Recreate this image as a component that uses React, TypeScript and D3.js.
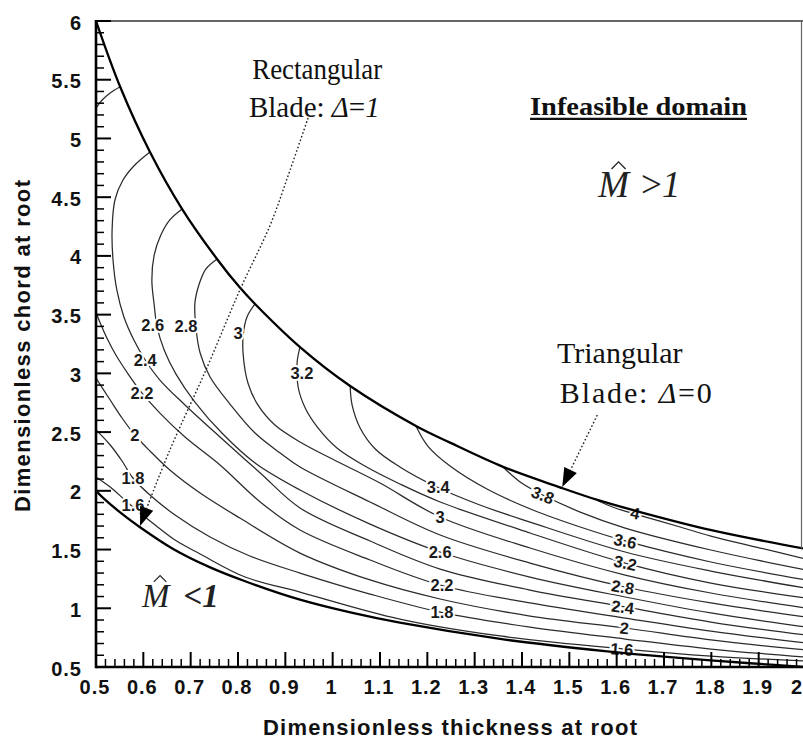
import React from 'react';
import * as d3 from 'd3';

const WIDTH = 803;
const HEIGHT = 739;

// ---------- axis ticks ----------
const xMajorTicks = [0.5, 0.6, 0.7, 0.8, 0.9, 1.0, 1.1, 1.2, 1.3, 1.4, 1.5, 1.6, 1.7, 1.8, 1.9, 2.0];
const xTickLabels = ['0.5', '0.6', '0.7', '0.8', '0.9', '1', '1.1', '1.2', '1.3', '1.4', '1.5', '1.6', '1.7', '1.8', '1.9', '2'];
const yMajorTicks = [0.5, 1, 1.5, 2, 2.5, 3, 3.5, 4, 4.5, 5, 5.5, 6];
const yTickLabels = ['0.5', '1', '1.5', '2', '2.5', '3', '3.5', '4', '4.5', '5', '5.5', '6'];

// ---------- boundaries (thickness t, chord c) ----------
const upperBoundary: [number, number][] = [
  [0.5, 6.0], [0.551, 5.44], [0.614, 4.885], [0.682, 4.399], [0.756, 3.972], [0.804, 3.73],
  [0.836, 3.59], [0.931, 3.223], [1.037, 2.892], [1.176, 2.552], [1.248, 2.41], [1.36, 2.204],
  [1.48, 2.03], [1.561, 1.92], [1.635, 1.835], [1.8, 1.665], [2.0, 1.505],
];
const lowerBoundary: [number, number][] = [
  [0.5, 2.0], [0.515, 1.94], [0.553, 1.81], [0.593, 1.69], [0.663, 1.505], [0.74, 1.35],
  [0.815, 1.23], [0.931, 1.073], [1.042, 0.96], [1.142, 0.877], [1.354, 0.739], [1.58, 0.633],
  [1.706, 0.586], [1.882, 0.532], [2.0, 0.5],
];

// ---------- contour lines ----------
const contour16: [number, number][] = [
  [0.5, 2.118], [0.53, 2.032], [0.561, 1.922], [0.593, 1.811], [0.625, 1.709], [0.667, 1.581],
  [0.72, 1.462], [0.815, 1.266], [0.931, 1.138], [1.142, 0.908], [1.354, 0.764], [1.618, 0.653],
  [1.799, 0.593], [2.0, 0.551],
];
const contour18: [number, number][] = [
  [0.5, 2.518], [0.53, 2.39], [0.555, 2.254], [0.578, 2.109], [0.614, 1.964], [0.667, 1.794],
  [0.741, 1.607], [0.825, 1.445], [0.931, 1.3], [1.079, 1.121], [1.227, 0.968], [1.417, 0.84],
  [1.618, 0.738], [1.799, 0.653], [2.0, 0.585],
];
const contour20: [number, number][] = [
  [0.5, 2.96], [0.53, 2.773], [0.555, 2.62], [0.582, 2.475], [0.614, 2.339], [0.656, 2.177],
  [0.72, 1.981], [0.804, 1.768], [0.931, 1.47], [1.079, 1.241], [1.227, 1.079], [1.417, 0.934],
  [1.618, 0.832], [1.799, 0.73], [2.0, 0.645],
];
const contour22top: [number, number][] = [
  [0.551, 5.44], [0.53, 5.387], [0.513, 5.327], [0.5, 5.259],
];
const contour22: [number, number][] = [
  [0.5, 3.522], [0.508, 3.437], [0.523, 3.301], [0.542, 3.156], [0.568, 2.994], [0.597, 2.833],
  [0.635, 2.662], [0.688, 2.458], [0.762, 2.22], [0.847, 1.905], [0.931, 1.666], [1.079, 1.411],
  [1.227, 1.198], [1.417, 1.045], [1.618, 0.917], [1.799, 0.806], [2.0, 0.704],
];
const contour24: [number, number][] = [
  [0.614, 4.885], [0.582, 4.774], [0.557, 4.646], [0.54, 4.476], [0.534, 4.221], [0.536, 3.965],
  [0.544, 3.71], [0.559, 3.48], [0.58, 3.284], [0.604, 3.114], [0.635, 2.943], [0.688, 2.731],
  [0.762, 2.458], [0.847, 2.152], [0.931, 1.854], [1.079, 1.573], [1.227, 1.334], [1.417, 1.155],
  [1.618, 1.011], [1.799, 0.883], [2.0, 0.772],
];
const contour26: [number, number][] = [
  [0.682, 4.399], [0.656, 4.306], [0.637, 4.178], [0.623, 4.008], [0.618, 3.795], [0.623, 3.582],
  [0.629, 3.395], [0.644, 3.199], [0.669, 2.994], [0.709, 2.756], [0.766, 2.492], [0.836, 2.237],
  [0.931, 2.007], [1.079, 1.717], [1.227, 1.479], [1.417, 1.266], [1.618, 1.096], [1.799, 0.96],
  [2.0, 0.84],
];
const contour28: [number, number][] = [
  [0.756, 3.974], [0.732, 3.888], [0.718, 3.761], [0.709, 3.599], [0.711, 3.395], [0.72, 3.173],
  [0.741, 2.969], [0.783, 2.739], [0.836, 2.492], [0.889, 2.322], [0.931, 2.203], [1.079, 1.905],
  [1.227, 1.624], [1.417, 1.385], [1.618, 1.181], [1.799, 1.045], [2.0, 0.926],
];
const contour30: [number, number][] = [
  [0.836, 3.591], [0.819, 3.48], [0.811, 3.327], [0.811, 3.156], [0.821, 2.918], [0.842, 2.731],
  [0.878, 2.56], [0.931, 2.416], [1.016, 2.237], [1.1, 2.066], [1.227, 1.777], [1.417, 1.513],
  [1.618, 1.283], [1.799, 1.13], [2.0, 1.002],
];
const contour32: [number, number][] = [
  [0.931, 3.224], [0.925, 3.097], [0.927, 2.884], [0.942, 2.705], [0.969, 2.535], [1.009, 2.364],
  [1.068, 2.211], [1.142, 2.058], [1.227, 1.905], [1.417, 1.641], [1.618, 1.385], [1.799, 1.215],
  [2.0, 1.087],
];
const contour34: [number, number][] = [
  [1.037, 2.892], [1.041, 2.731], [1.058, 2.535], [1.09, 2.356], [1.142, 2.203], [1.22, 2.032],
  [1.311, 1.879], [1.417, 1.734], [1.618, 1.479], [1.799, 1.317], [2.0, 1.172],
];
const contour36: [number, number][] = [
  [1.176, 2.552], [1.201, 2.381], [1.248, 2.211], [1.326, 2.015], [1.423, 1.837], [1.523, 1.692],
  [1.618, 1.573], [1.799, 1.394], [2.0, 1.241],
];
const contour38: [number, number][] = [
  [1.36, 2.203], [1.396, 2.075], [1.444, 1.964], [1.523, 1.819], [1.618, 1.683], [1.799, 1.496],
  [2.0, 1.326],
];
const contour40: [number, number][] = [
  [1.561, 1.913], [1.597, 1.854], [1.639, 1.802], [1.734, 1.692], [1.799, 1.615], [1.903, 1.513],
  [2.0, 1.419],
];

// ---------- contour labels: text, t, c ----------
const contourLabels: [string, number, number][] = [
  ['1.6', 0.578, 1.879], ['1.8', 0.578, 2.109], ['2', 0.582, 2.475], ['2.2', 0.597, 2.833],
  ['2.4', 0.604, 3.114], ['2.6', 0.62, 3.41], ['2.8', 0.69, 3.4], ['3', 0.8, 3.344],
  ['3.2', 0.935, 3.003],
  ['3.4', 1.223, 2.032], ['3', 1.227, 1.777], ['2.6', 1.227, 1.479], ['2.2', 1.231, 1.198],
  ['1.8', 1.231, 0.968], ['3.8', 1.444, 1.964],
  ['4', 1.639, 1.811], ['3.6', 1.618, 1.573], ['3.2', 1.618, 1.386], ['2.8', 1.613, 1.181],
  ['2.4', 1.613, 1.011], ['2', 1.616, 0.832], ['1.6', 1.611, 0.653],
];

// ---------- annotation arrows ----------
const rectangularArrow: [number, number][] = [
  [0.948, 5.174], [0.91, 4.731], [0.868, 4.263], [0.804, 3.71], [0.735, 3.054], [0.656, 2.347],
  [0.608, 1.862], [0.593, 1.7],
];
const triangularArrow: [number, number][] = [
  [1.559, 2.645], [1.485, 2.032],
];

// ---------- annotation anchors (t, c) ----------
const rectTitlePos: [number, number] = [0.83, 5.506];
const rectSubPos: [number, number] = [0.823, 5.183];
const triTitlePos: [number, number] = [1.474, 3.088];
const triSubPos: [number, number] = [1.48, 2.748];
const infeasiblePos: [number, number] = [1.417, 5.2];
const mGreaterPos: [number, number] = [1.561, 4.501];
const mLessPos: [number, number] = [0.597, 1.011];

const SANS = '"Liberation Sans", Arial, Helvetica, sans-serif';
const SERIF = '"Liberation Serif", "Times New Roman", Times, serif';

export default function App() {
  const x = d3.scaleLinear().domain([0.5, 2.0]).range([96, 806]);
  const y = d3.scaleLinear().domain([0.5, 6]).range([667, 21]);
  const [x0, x1] = x.range();
  const [y0, y1] = y.range(); // y0 bottom, y1 top

  const smooth = d3
    .line<[number, number]>()
    .x((d) => x(d[0]))
    .y((d) => y(d[1]))
    .curve(d3.curveCatmullRom.alpha(0.5));
  const straight = d3
    .line<[number, number]>()
    .x((d) => x(d[0]))
    .y((d) => y(d[1]));

  const contours: { level: number; pts: [number, number][] }[] = [
    { level: 1.6, pts: contour16 },
    { level: 1.8, pts: contour18 },
    { level: 2.0, pts: contour20 },
    { level: 2.2, pts: contour22top },
    { level: 2.2, pts: contour22 },
    { level: 2.4, pts: contour24 },
    { level: 2.6, pts: contour26 },
    { level: 2.8, pts: contour28 },
    { level: 3.0, pts: contour30 },
    { level: 3.2, pts: contour32 },
    { level: 3.4, pts: contour34 },
    { level: 3.6, pts: contour36 },
    { level: 3.8, pts: contour38 },
    { level: 4.0, pts: contour40 },
  ];

  const labelAngle = (text: string, t: number) => {
    if (t < 1.35) return 0;
    const lev = parseFloat(text);
    const c = contours.filter((k) => Math.abs(k.level - lev) < 1e-6 && k.pts.length > 4)[0];
    if (!c) return 0;
    for (let i = 0; i < c.pts.length - 1; i++) {
      const a = c.pts[i];
      const b = c.pts[i + 1];
      if (t >= Math.min(a[0], b[0]) && t <= Math.max(a[0], b[0])) {
        const ang = (Math.atan2(y(b[1]) - y(a[1]), x(b[0]) - x(a[0])) * 180) / Math.PI;
        return ang * 0.7;
      }
    }
    return 0;
  };

  const xMinor = d3.range(0.5, 2.0001, 0.02).filter((v) => Math.abs(v * 10 - Math.round(v * 10)) > 1e-6);
  const yMinor = d3.range(0.5, 6.0001, 0.1).filter((v) => Math.abs(v * 2 - Math.round(v * 2)) > 1e-6);

  const arrowHead = (pts: [number, number][], len: number, half: number) => {
    const n = pts.length;
    const tip = [x(pts[n - 1][0]), y(pts[n - 1][1])];
    const prev = [x(pts[n - 2][0]), y(pts[n - 2][1])];
    const dx = tip[0] - prev[0];
    const dy = tip[1] - prev[1];
    const L = Math.hypot(dx, dy);
    const ux = dx / L;
    const uy = dy / L;
    const bx = tip[0] - ux * len;
    const by = tip[1] - uy * len;
    const p1 = [bx - uy * half, by + ux * half];
    const p2 = [bx + uy * half, by - ux * half];
    return {
      path: `M${tip[0]},${tip[1]}L${p1[0]},${p1[1]}L${p2[0]},${p2[1]}Z`,
      base: [x.invert(bx), y.invert(by)] as [number, number],
    };
  };

  const rectHead = arrowHead(rectangularArrow, 19, 7);
  const triHead = arrowHead(triangularArrow, 19, 7);
  const rectLine = [...rectangularArrow.slice(0, -1), rectHead.base] as [number, number][];
  const triLine = [triangularArrow[0], triHead.base] as [number, number][];

  const hat = (ax: number, ay: number, fs: number) =>
    `M${ax + 0.36 * fs},${ay - 0.76 * fs}L${ax + 0.55 * fs},${ay - 0.95 * fs}L${ax + 0.74 * fs},${ay - 0.76 * fs}`;

  const mgx = x(mGreaterPos[0]);
  const mgy = y(mGreaterPos[1]);
  const mlx = x(mLessPos[0]);
  const mly = y(mLessPos[1]);
  const infX = x(infeasiblePos[0]);
  const infY = y(infeasiblePos[1]);

  return (
    <svg
      width={WIDTH}
      height={HEIGHT}
      style={{ position: 'absolute', left: 0, top: 0, background: '#fff' }}
    >
      <defs>
        <clipPath id="plotClip">
          <rect x={x0} y={y1} width={x1 - x0} height={y0 - y1} />
        </clipPath>
      </defs>
      <rect x={0} y={0} width={WIDTH} height={HEIGHT} fill="#fff" />

      <g clipPath="url(#plotClip)">
        {contours.map((k, i) => (
          <path key={i} d={smooth(k.pts) || ''} fill="none" stroke="#2b2b2b" strokeWidth={1.25} />
        ))}
      </g>

      {/* contour labels */}
      {contourLabels.map(([txt, t, c], i) => {
        const px = x(t);
        const py = y(c);
        const ang = labelAngle(txt, t);
        return (
          <text
            key={i}
            transform={`translate(${px},${py}) rotate(${ang})`}
            textAnchor="middle"
            dy="0.36em"
            fontFamily={SANS}
            fontWeight="bold"
            fontSize={16.5}
            fill="#1a1a1a"
            stroke="#fff"
            strokeWidth={4}
            paintOrder="stroke"
          >
            {txt}
          </text>
        );
      })}

      <g clipPath="url(#plotClip)">
        <path d={smooth(upperBoundary) || ''} fill="none" stroke="#000" strokeWidth={2.3} />
        <path d={smooth(lowerBoundary) || ''} fill="none" stroke="#000" strokeWidth={2.3} />
      </g>

      {/* arrows */}
      <path d={smooth(rectLine) || ''} fill="none" stroke="#222" strokeWidth={1.4} strokeDasharray="1.6 2.2" />
      <path d={rectHead.path} fill="#000" />
      <path d={straight(triLine) || ''} fill="none" stroke="#222" strokeWidth={1.4} strokeDasharray="1.6 2.2" />
      <path d={triHead.path} fill="#000" />

      {/* frame */}
      <line x1={x0} x2={WIDTH} y1={y1} y2={y1} stroke="#333" strokeWidth={1.6} />
      <line x1={801.5} x2={801.5} y1={y1} y2={y(1.51)} stroke="#666" strokeWidth={1.2} />
      <line x1={x0} x2={x0} y1={y1 - 1} y2={y0 + 1.2} stroke="#000" strokeWidth={2.6} />
      <line x1={x0} x2={WIDTH} y1={y0} y2={y0} stroke="#000" strokeWidth={2.6} />

      {/* ticks */}
      {yMajorTicks.map((v) => (
        <line key={'ym' + v} x1={x0} x2={x0 + 15} y1={y(v)} y2={y(v)} stroke="#000" strokeWidth={2} />
      ))}
      {yMinor.map((v) => (
        <line key={'yn' + v} x1={x0} x2={x0 + 8} y1={y(v)} y2={y(v)} stroke="#000" strokeWidth={1.5} />
      ))}
      {xMajorTicks.map((v) => (
        <line key={'xm' + v} x1={x(v)} x2={x(v)} y1={y0} y2={y0 - 15} stroke="#000" strokeWidth={2} />
      ))}
      {xMinor.map((v) => (
        <line key={'xn' + v} x1={x(v)} x2={x(v)} y1={y0} y2={y0 - 8} stroke="#000" strokeWidth={1.5} />
      ))}

      {/* tick labels */}
      {yMajorTicks.map((v, i) => (
        <text
          key={'yl' + v}
          x={82}
          y={y(v) + 8.5}
          textAnchor="end"
          fontFamily={SANS}
          fontWeight="bold"
          fontSize={20}
          letterSpacing={1}
          fill="#111"
        >
          {yTickLabels[i]}
        </text>
      ))}
      {xMajorTicks.map((v, i) => {
        const last = i === xMajorTicks.length - 1;
        return (
          <text
            key={'xl' + v}
            x={last ? WIDTH - 1 : x(v) - 1}
            y={694}
            textAnchor={last ? 'end' : 'middle'}
            fontFamily={SANS}
            fontWeight="bold"
            fontSize={20}
            letterSpacing={last ? 0 : 1}
            fill="#111"
          >
            {xTickLabels[i]}
          </text>
        );
      })}

      {/* axis titles */}
      <text
        x={(x0 + x1) / 2 - 1}
        y={735}
        textAnchor="middle"
        fontFamily={SANS}
        fontWeight="bold"
        fontSize={22}
        textLength={374}
        lengthAdjust="spacing"
        fill="#111"
      >
        Dimensionless thickness at root
      </text>
      <text
        transform={`translate(30,${(y0 + y1) / 2 + 2}) rotate(-90)`}
        textAnchor="middle"
        fontFamily={SANS}
        fontWeight="bold"
        fontSize={22}
        textLength={332}
        lengthAdjust="spacing"
        fill="#111"
      >
        Dimensionless chord at root
      </text>

      {/* annotations */}
      <text
        x={x(rectTitlePos[0])}
        y={y(rectTitlePos[1])}
        fontFamily={SERIF}
        fontSize={29}
        textLength={130}
        lengthAdjust="spacingAndGlyphs"
        fill="#111"
      >
        Rectangular
      </text>
      <text x={x(rectSubPos[0])} y={y(rectSubPos[1])} fontFamily={SERIF} fontSize={29} fill="#111">
        Blade: <tspan fontStyle="italic">Δ</tspan>=<tspan fontStyle="italic">1</tspan>
      </text>
      <text x={x(triTitlePos[0])} y={y(triTitlePos[1])} fontFamily={SERIF} fontSize={30} fill="#111">
        Triangular
      </text>
      <text
        x={x(triSubPos[0])}
        y={y(triSubPos[1])}
        fontFamily={SERIF}
        fontSize={30}
        textLength={152}
        lengthAdjust="spacing"
        fill="#111"
      >
        Blade: <tspan fontStyle="italic">Δ</tspan>=0
      </text>

      <text
        x={infX}
        y={infY}
        fontFamily={SERIF}
        fontWeight="bold"
        fontSize={26}
        textLength={217}
        lengthAdjust="spacingAndGlyphs"
        fill="#111"
      >
        Infeasible domain
      </text>
      <line x1={infX} x2={infX + 217} y1={infY + 4} y2={infY + 4} stroke="#111" strokeWidth={2.2} />

      <text x={mgx} y={mgy} fontFamily={SERIF} fontSize={37} fill="#222">
        <tspan fontStyle="italic">M</tspan>
        <tspan dx={12}>&gt;</tspan>
        <tspan fontStyle="italic">1</tspan>
      </text>
      <path d={hat(mgx, mgy, 37)} fill="none" stroke="#222" strokeWidth={1.3} />

      <text x={mlx} y={mly} fontFamily={SERIF} fontSize={33} fill="#222">
        <tspan fontStyle="italic">M</tspan>
        <tspan dx={14} fontWeight="bold">&lt;</tspan>
        <tspan fontStyle="italic" fontWeight="bold">1</tspan>
      </text>
      <path d={hat(mlx, mly, 33)} fill="none" stroke="#222" strokeWidth={1.2} />
    </svg>
  );
}
